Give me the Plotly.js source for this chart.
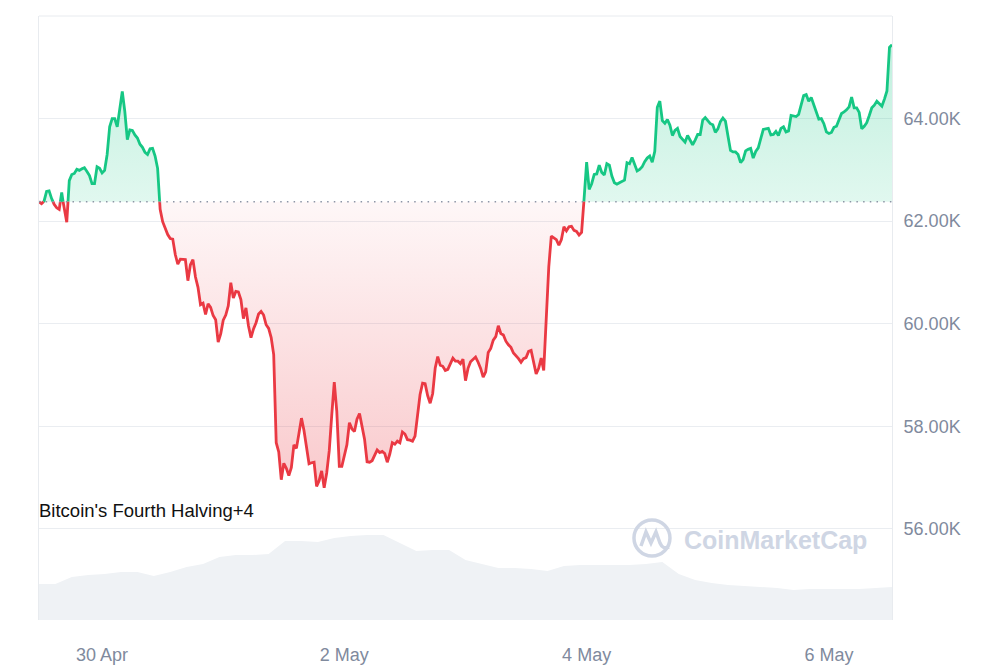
<!DOCTYPE html>
<html><head><meta charset="utf-8">
<script src="https://cdn.plot.ly/plotly-3.0.1.min.js"></script>
<style>html,body{margin:0;padding:0;background:#fff}#chart{width:1000px;height:667px}</style>
</head><body><div id="chart"></div>
<script>
// ---- data ----
const startTime = '2024-04-29T11:30:00Z';
const priceStepHours = 0.5;
const prices = [
62380,62340,62390,62580,62590,62440,62330,62260,62230,62560,
62230,61980,62790,62910,62930,63010,62990,63020,63040,62970,
62890,62730,62730,63060,63030,62940,62990,63300,63840,64000,
64000,63840,64230,64530,64140,63590,63780,63770,63680,63620,
63500,63440,63340,63300,63410,63420,63270,63030,62230,61990,
61860,61740,61660,61650,61350,61160,61260,61250,61250,60840,
61150,61250,60910,60710,60370,60400,60180,60390,60320,60160,
60080,59640,59800,60070,60170,60350,60800,60500,60630,60620,
60470,60100,60310,59960,59730,59900,60020,60190,60240,60170,
59980,59910,59730,59400,57680,57500,56960,57280,57180,57040,
57200,57640,57570,57860,58160,57920,57580,57270,57290,57300,
56830,56940,57130,56800,57090,57520,58220,58860,58290,57220,
57220,57420,57640,58070,57950,57900,58140,58250,57970,57750,
57310,57300,57330,57450,57540,57490,57510,57470,57300,57460,
57680,57650,57710,57680,57890,57850,57740,57730,57710,57810,
58220,58620,58840,58830,58600,58450,58640,59140,59360,59190,
59170,59090,59110,59220,59330,59270,59270,59220,59310,58890,
59130,59260,59300,59350,59250,59130,58960,59060,59440,59520,
59680,59750,59960,59810,59780,59660,59590,59540,59430,59380,
59320,59250,59320,59340,59460,59480,59260,59020,59130,59330,
59090,60020,61110,61710,61680,61640,61530,61640,61890,61810,
61890,61900,61820,61800,61730,61780,62440,63150,62620,62730,
62910,62920,63090,62950,62900,63120,63090,62880,62750,62720,
62750,62770,62800,63140,63120,63240,63120,62980,63010,63060,
63160,63230,63270,63150,63360,64220,64340,63960,63910,63980,
63870,63670,63770,63810,63650,63590,63540,63670,63590,63490,
63580,63690,63690,63970,64020,63970,63900,63880,63730,63800,
63940,64010,63950,63660,63380,63350,63350,63300,63140,63200,
63370,63400,63420,63230,63360,63430,63620,63790,63800,63810,
63680,63690,63750,63670,63810,63840,63740,63760,64060,64050,
64040,64080,64270,64450,64470,64340,64410,64280,64110,63990,
64000,63900,63740,63710,63730,63830,63850,63970,64100,64130,
64170,64230,64420,64210,64210,64120,63800,63850,63920,64060,
64210,64260,64340,64290,64240,64380,64540,65390,65440
];
const volumeStepHours = 3.25;
const volumes = [
18.0,18.0,21.5,22.5,23.0,24.0,24.0,22.0,24.0,26.5,
28.0,31.5,32.5,32.5,33.0,39.5,39.5,39.0,41.0,42.0,
42.5,42.5,38.5,34.5,35.0,35.0,30.0,28.0,26.0,26.0,
25.5,24.5,27.0,27.5,27.5,27.5,27.5,28.0,29.0,23.0,
20.0,18.5,17.5,17.0,16.5,16.0,15.0,15.5,15.5,15.5,
15.5,16.0,16.5
];
const baseline = 62380;
const xTickDates = ['2024-04-30','2024-05-02','2024-05-04','2024-05-06'];
const xTickLabels = ['30 Apr','2 May','4 May','6 May'];
const yTickValues = [56000,58000,60000,62000,64000];
const yTickLabels = ['56.00K','58.00K','60.00K','62.00K','64.00K'];
const chartLabel = "Bitcoin's Fourth Halving+4";
const watermarkText = 'CoinMarketCap';

// ---- build traces ----
const H = 3600000;
const t0 = Date.parse(startTime);
const toStr = ms => new Date(ms).toISOString().replace('T',' ').replace('Z','');
const priceTimes = prices.map((_, i) => t0 + i * priceStepHours * H);
const volumeTimes = volumes.map((_, i) => t0 + i * volumeStepHours * H);

const pts = [];
for (let i = 0; i < prices.length; i++) {
  if (i > 0) {
    const a = prices[i-1] - baseline, b = prices[i] - baseline;
    if (a * b < 0) {
      const f = a / (a - b);
      pts.push({t: priceTimes[i-1] + f * (priceTimes[i] - priceTimes[i-1]), v: baseline});
    }
  }
  pts.push({t: priceTimes[i], v: prices[i]});
}
const X = pts.map(p => toStr(p.t));
const baseY = pts.map(() => baseline);
const upper = pts.map(p => Math.max(p.v, baseline));
const lower = pts.map(p => Math.min(p.v, baseline));
const greenY = pts.map(p => p.v >= baseline ? p.v : null);
const redY = pts.map(p => p.v <= baseline ? p.v : null);
const pMax = Math.max(...prices), pMin = Math.min(...prices);

const GREEN = '#16c784', RED = '#ea3943';
const traces = [
  {x: X, y: baseY, mode: 'lines', line: {width: 0}, hoverinfo: 'skip'},
  {x: X, y: upper, mode: 'lines', line: {width: 0}, fill: 'tonexty', hoverinfo: 'skip',
   fillgradient: {type: 'vertical', start: baseline, stop: pMax,
     colorscale: [[0, 'rgba(22,199,132,0.13)'], [1, 'rgba(22,199,132,0.27)']]}},
  {x: X, y: baseY, mode: 'lines', line: {width: 0}, hoverinfo: 'skip'},
  {x: X, y: lower, mode: 'lines', line: {width: 0}, fill: 'tonexty', hoverinfo: 'skip',
   fillgradient: {type: 'vertical', start: pMin, stop: baseline,
     colorscale: [[0, 'rgba(234,57,67,0.27)'], [1, 'rgba(234,57,67,0.04)']]}},
  {x: X, y: greenY, mode: 'lines', connectgaps: false, line: {color: GREEN, width: 2.8}},
  {x: X, y: redY, mode: 'lines', connectgaps: false, line: {color: RED, width: 2.8}},
  {x: volumeTimes.map(toStr), y: volumes, yaxis: 'y2', mode: 'lines', line: {width: 0},
   fill: 'tozeroy', fillcolor: '#eff2f5', hoverinfo: 'skip'}
];

const tickFont = {family: 'Liberation Sans, Arial, sans-serif', size: 18, color: '#808a9d'};
const logoColor = 'rgb(207,214,228)';
const layout = {
  width: 1000, height: 667,
  margin: {l: 39, r: 108, t: 16, b: 47},
  paper_bgcolor: '#fff', plot_bgcolor: '#fff',
  showlegend: false, hovermode: false,
  xaxis: {type: 'date', range: [toStr(t0), toStr(priceTimes[priceTimes.length-1])],
    showgrid: false, zeroline: false, showline: false, ticks: '',
    tickvals: xTickDates, ticktext: xTickLabels, tickfont: tickFont, ticklabelstandoff: 22},
  yaxis: {range: [54224, 66000], side: 'right', tickvals: yTickValues, ticktext: yTickLabels,
    tickfont: tickFont, gridcolor: '#eaedf1', gridwidth: 1, zeroline: false,
    showline: true, mirror: true, linecolor: '#e8ebef', linewidth: 1, ticks: '',
    ticklabelstandoff: 7},
  yaxis2: {overlaying: 'y', range: [0, 302], visible: false},
  shapes: [
    {type: 'line', xref: 'paper', yref: 'paper', x0: 0, x1: 1, y0: 1, y1: 1,
     line: {color: '#e8ebef', width: 1}},
    {type: 'line', xref: 'x', yref: 'y', x0: X[0], x1: X[X.length-1], y0: baseline, y1: baseline,
     line: {color: '#8d95a6', width: 1.5, dash: '1.5px,5.2px'}},
    {type: 'circle', xref: 'paper', yref: 'paper', xsizemode: 'pixel', ysizemode: 'pixel',
     xanchor: 0.7186, yanchor: 0.1358, x0: -18, x1: 18, y0: -18, y1: 18,
     line: {color: logoColor, width: 3.5}},
    {type: 'path', xref: 'paper', yref: 'paper', xsizemode: 'pixel', ysizemode: 'pixel',
     xanchor: 0.7186, yanchor: 0.1358,
     path: 'M -11,-8 L -6,6 L -1,-5 L 4,6 L 8,-5 Q 11,-12 17,-9',
     line: {color: logoColor, width: 3.5}}
  ],
  annotations: [
    {xref: 'paper', yref: 'paper', x: -0.002, y: 0.182, xanchor: 'left', yanchor: 'middle',
     text: chartLabel, showarrow: false,
     font: {family: 'Liberation Sans, Arial, sans-serif', size: 18.5, color: '#111'}},
    {xref: 'paper', yref: 'paper', x: 0.864, y: 0.1325, xanchor: 'center', yanchor: 'middle',
     text: '<b>' + watermarkText + '</b>', showarrow: false,
     font: {family: 'Liberation Sans, Arial, sans-serif', size: 25, color: logoColor}}
  ]
};
Plotly.newPlot('chart', traces, layout, {staticPlot: true, displayModeBar: false});
</script></body></html>
